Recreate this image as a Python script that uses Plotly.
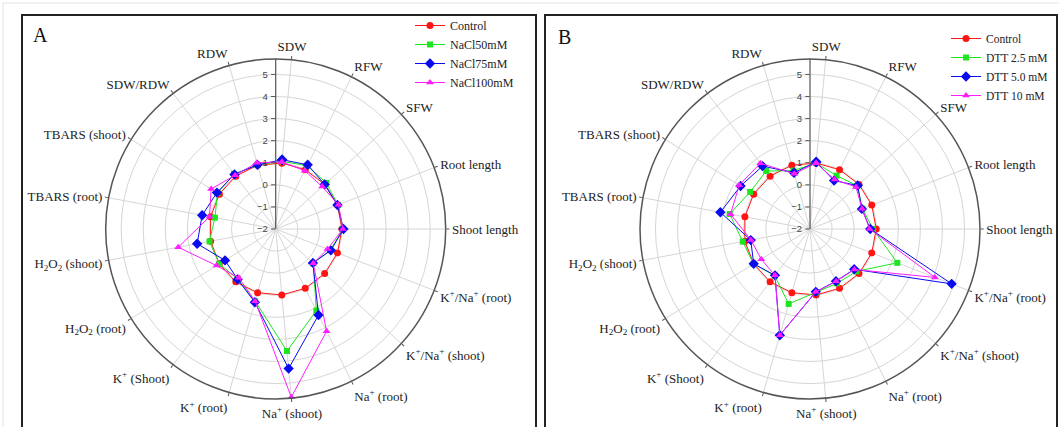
import plotly.graph_objects as go

categories = ["SDW", "RFW", "SFW", "Root length", "Shoot length",
              "K<sup>+</sup>/Na<sup>+</sup> (root)", "K<sup>+</sup>/Na<sup>+</sup> (shoot)",
              "Na<sup>+</sup> (root)", "Na<sup>+</sup> (shoot)", "K<sup>+</sup> (root)",
              "K<sup>+</sup> (Shoot)", "H<sub>2</sub>O<sub>2</sub> (root)",
              "H<sub>2</sub>O<sub>2</sub> (shoot)", "TBARS (root)", "TBARS (shoot)",
              "SDW/RDW", "RDW"]

# Panel A (NaCl)
a_control = [1.0] * 17
a_nacl50 = [1.08, 1.20, 1.10, 1.02, 1.05, 0.65, 0.30, 2.13, 3.55, 1.40, 0.85, 1.00, 1.05, 0.80, 1.10, 1.13, 1.02]
a_nacl75 = [1.15, 1.25, 1.00, 1.00, 1.07, 0.68, 0.28, 2.35, 4.35, 1.45, 0.86, 0.70, 1.62, 1.39, 1.13, 1.10, 1.02]
a_nacl100 = [1.05, 0.95, 0.85, 1.05, 1.04, 0.52, 0.30, 3.17, 5.65, 1.40, 0.77, 1.15, 2.49, 1.05, 1.44, 1.05, 1.12]
a_names = ["Control", "NaCl50mM", "NaCl75mM", "NaCl100mM"]

# Panel B (DTT)
b_control = [1.0] * 17
b_dtt25 = [1.00, 0.70, 0.90, 0.55, 0.85, 2.24, 0.85, 0.75, 0.88, 1.53, 0.65, 1.00, 1.10, 1.70, 1.19, 1.29, 0.75]
b_dtt50 = [1.05, 0.45, 0.92, 0.52, 0.73, 4.88, 0.71, 0.64, 0.86, 3.00, 0.63, 1.00, 0.73, 2.13, 1.70, 1.57, 0.65]
b_dtt10 = [1.00, 0.50, 0.82, 0.53, 0.70, 4.07, 0.72, 0.65, 0.86, 3.00, 0.63, 0.60, 0.72, 1.66, 1.77, 1.73, 0.60]
b_names = ["Control", "DTT 2.5 mM", "DTT 5.0 mM", "DTT 10 mM"]

colors = ["#ff1414", "#1ee61e", "#0a0aee", "#ff1eff"]
symbols = ["circle", "square", "diamond", "triangle-up"]
sizes = [7, 6, 8, 7]

W, H = 1059, 427
fig = go.Figure()

def closed(v):
    return list(v) + [v[0]]

for series, names, polar, legend in [
        ([a_control, a_nacl50, a_nacl75, a_nacl100], a_names, "polar", "legend"),
        ([b_control, b_dtt25, b_dtt50, b_dtt10], b_names, "polar2", "legend2")]:
    for vals, name, c, s, sz in zip(series, names, colors, symbols, sizes):
        fig.add_trace(go.Scatterpolar(
            r=closed(vals), theta=closed(categories), mode="lines+markers",
            name=name, subplot=polar, legend=legend,
            line=dict(color=c, width=1),
            marker=dict(color=c, symbol=s, size=sz)))

def polar_layout(x0):
    R = 170
    cx_px, cy_px = x0, 229
    return dict(
        domain=dict(x=[(cx_px - R) / W, (cx_px + R) / W],
                    y=[(H - cy_px - R) / H, (H - cy_px + R) / H]),
        bgcolor="white",
        angularaxis=dict(type="category", categoryorder="array", categoryarray=categories,
                         direction="clockwise", rotation=4 * 360 / 17,
                         showline=True, linecolor="#555", linewidth=1.5,
                         ticks="outside", ticklen=3, tickcolor="#555",
                         gridcolor="#d6d6d6", gridwidth=1,
                         tickfont=dict(family="Liberation Serif", size=13, color="#222")),
        radialaxis=dict(range=[-2, 5.7], angle=90, side="counterclockwise", tickangle=90,
                        tick0=0, dtick=1,
                        showline=True, linecolor="#555", linewidth=1.2,
                        ticks="outside", ticklen=4, tickcolor="#555",
                        gridcolor="#d6d6d6", gridwidth=1,
                        tickfont=dict(family="Liberation Sans", size=9.5, color="#444")))

fig.update_layout(
    width=W, height=H, margin=dict(l=0, r=0, t=0, b=0),
    paper_bgcolor="white", plot_bgcolor="white",
    polar=polar_layout(275.7), polar2=polar_layout(810),
    legend=dict(x=410 / W, y=(H - 11) / H, xanchor="left", yanchor="top",
                font=dict(family="Liberation Serif", size=12, color="#222"),
                bgcolor="rgba(0,0,0,0)", itemwidth=30),
    legend2=dict(x=946 / W, y=(H - 24) / H, xanchor="left", yanchor="top",
                 font=dict(family="Liberation Serif", size=11.5, color="#222"),
                 bgcolor="rgba(0,0,0,0)", itemwidth=30),
    shapes=[
        dict(type="rect", xref="paper", yref="paper", x0=3 / W, x1=1.01, y0=-0.1, y1=(H - 3) / H,
             line=dict(color="#e2e2e2", width=1)),
        dict(type="rect", xref="paper", yref="paper", x0=22 / W, x1=536 / W, y0=-0.1, y1=(H - 15) / H,
             line=dict(color="#222", width=2)),
        dict(type="rect", xref="paper", yref="paper", x0=545 / W, x1=1057 / W, y0=-0.1, y1=(H - 15) / H,
             line=dict(color="#222", width=2)),
    ],
    annotations=[
        dict(text="A", x=31 / W, y=(H - 35) / H, xref="paper", yref="paper", xanchor="left",
             yanchor="middle", showarrow=False, font=dict(family="Liberation Serif", size=20, color="#111")),
        dict(text="B", x=556 / W, y=(H - 37) / H, xref="paper", yref="paper", xanchor="left",
             yanchor="middle", showarrow=False, font=dict(family="Liberation Serif", size=20, color="#111")),
    ],
)

fig.write_html("out.html", config={"displayModeBar": False},
               post_script="document.body.style.margin='0px';document.body.style.overflow='hidden';")
